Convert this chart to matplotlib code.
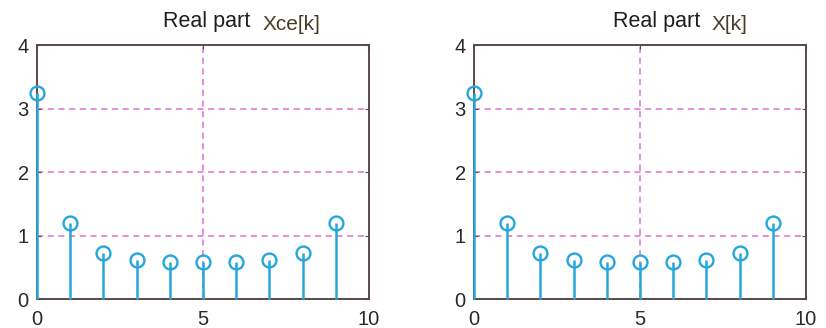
import numpy as np
import matplotlib.pyplot as plt

plt.rcParams['font.family'] = ['Liberation Sans', 'DejaVu Sans']

# DFT index and real part values (both panels show the same sequence)
k = [0, 1, 2, 3, 4, 5, 6, 7, 8, 9]
re_xce = [3.24, 1.19, 0.72, 0.62, 0.59, 0.59, 0.59, 0.62, 0.72, 1.19]
re_X = [3.24, 1.19, 0.72, 0.62, 0.59, 0.59, 0.59, 0.62, 0.72, 1.19]
xticks = [0, 5, 10]
yticks = [0, 1, 2, 3, 4]

stem_col = '#27a6dc'
grid_col = '#e070d4'
frame_col = '#5a4a47'
text_col = '#2a2a2a'

fig = plt.figure(figsize=(8.26, 3.28), dpi=100)
ax1 = fig.add_axes([0.0448, 0.0884, 0.402, 0.7744])
ax2 = fig.add_axes([0.5738, 0.0884, 0.402, 0.7744])


def draw_panel(ax, vals, label, title_right, label_left):
    ml, sl, bl = ax.stem(k, vals, basefmt=' ')
    plt.setp(sl, color=stem_col, linewidth=1.8, clip_on=False, zorder=4)
    plt.setp(ml, marker='o', markersize=10, markerfacecolor='none',
             markeredgecolor=stem_col, markeredgewidth=1.7, clip_on=False,
             zorder=5)
    ax.set_xlim(0, 10)
    ax.set_ylim(0, 4)
    ax.set_xticks(xticks)
    ax.set_yticks(yticks)
    ax.grid(True, color=grid_col, linestyle=(0, (4, 3)), linewidth=1.1)
    ax.tick_params(direction='in', length=3, color=frame_col,
                   labelsize=14.5, labelcolor=text_col, top=True, right=True)
    ax.tick_params(axis='x', pad=8)
    ax.tick_params(axis='y', pad=6)
    for s in ax.spines.values():
        s.set_color(frame_col)
        s.set_linewidth(1.4)
    ax.text(title_right, 1.07, 'Real part', transform=ax.transAxes,
            ha='right', va='baseline', fontsize=15.5, color='#1e1e1e')
    ax.text(label_left, 1.06, label, transform=ax.transAxes, ha='left',
            va='baseline', fontsize=15, color='#4a3c22')


draw_panel(ax1, re_xce, 'Xce[k]', 0.642, 0.678)
draw_panel(ax2, re_X, 'X[k]', 0.681, 0.715)

fig.savefig('out.png', dpi=100)
